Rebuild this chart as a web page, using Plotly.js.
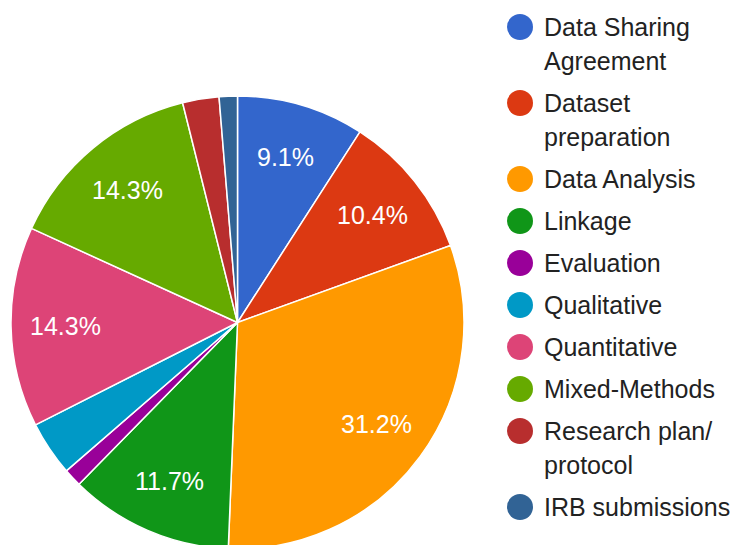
<!DOCTYPE html>
<html>
<head>
<meta charset="utf-8">
<script src="https://cdn.plot.ly/plotly-3.0.1.min.js"></script>
<style>
html,body{margin:0;padding:0;background:#fff;overflow:hidden;}
#wrap{width:740px;height:545px;overflow:hidden;}
#chart{width:740px;height:560px;}
</style>
</head>
<body>
<div id="wrap"><div id="chart"></div></div>
<script>
// ---- data ----
const categories = ["Data Sharing Agreement","Dataset preparation","Data Analysis","Linkage","Evaluation","Qualitative","Quantitative","Mixed-Methods","Research plan/ protocol","IRB submissions"];
const legendLines = [["Data Sharing","Agreement"],["Dataset","preparation"],["Data Analysis"],["Linkage"],["Evaluation"],["Qualitative"],["Quantitative"],["Mixed-Methods"],["Research plan/","protocol"],["IRB submissions"]];
const counts = [7, 8, 24, 9, 1, 3, 11, 11, 2, 1];
const colors = ["#3366cc","#dc3912","#ff9900","#109618","#990099","#0099c6","#dd4477","#66aa00","#b82e2e","#316395"];

// ---- geometry ----
const W = 740, H = 560;
const cx = 237.5, cy = 322.5, R = 226.5;
const FONT = "Arial, 'Liberation Sans', sans-serif";
const px = x => x / W;
const py = y => (H - y) / H;

const total = counts.reduce((a,b)=>a+b,0);
const annotations = [];
const shapes = [];

// slice percentage labels (only for slices large enough)
let cum = 0;
counts.forEach((v,i)=>{
  const mid = (cum + v/2) / total * 2 * Math.PI;
  cum += v;
  const frac = v/total;
  if (frac < 0.05) return;
  const f = 0.76;
  const x = cx + f*R*Math.sin(mid);
  const y = cy - f*R*Math.cos(mid);
  annotations.push({
    xref:'paper', yref:'paper', x:px(x), y:py(y), xanchor:'center', yanchor:'middle',
    text:(frac*100).toFixed(1)+'%', showarrow:false,
    font:{family:FONT, size:25, color:'#ffffff'}
  });
});

// legend (circles + text)
let ly = 27;
legendLines.forEach((lines,i)=>{
  shapes.push({type:'circle', xref:'paper', yref:'paper',
    x0:px(520-13), x1:px(520+13), y0:py(ly+13), y1:py(ly-13),
    fillcolor:colors[i], line:{width:0}});
  lines.forEach((t,j)=>{
    annotations.push({xref:'paper', yref:'paper', x:px(542), y:py(ly), xanchor:'left', yanchor:'middle',
      text:t, showarrow:false, font:{family:FONT, size:25, color:'#222222'}});
    if (j < lines.length-1) ly += 34;
  });
  ly += 42;
});

const trace = {
  type:'pie',
  labels:categories,
  values:counts,
  sort:false,
  direction:'clockwise',
  rotation:0,
  marker:{colors:colors, line:{color:'#ffffff', width:1.5}},
  textinfo:'none',
  hoverinfo:'label+percent',
  showlegend:false,
  domain:{x:[px(cx-R), px(cx+R)], y:[py(cy+R), py(cy-R)]}
};

Plotly.newPlot('chart',[trace],{
  width:W, height:H,
  margin:{l:0,r:0,t:0,b:0},
  paper_bgcolor:'#ffffff',
  showlegend:false,
  annotations:annotations,
  shapes:shapes
},{displayModeBar:false, staticPlot:true});
</script>
</body>
</html>
